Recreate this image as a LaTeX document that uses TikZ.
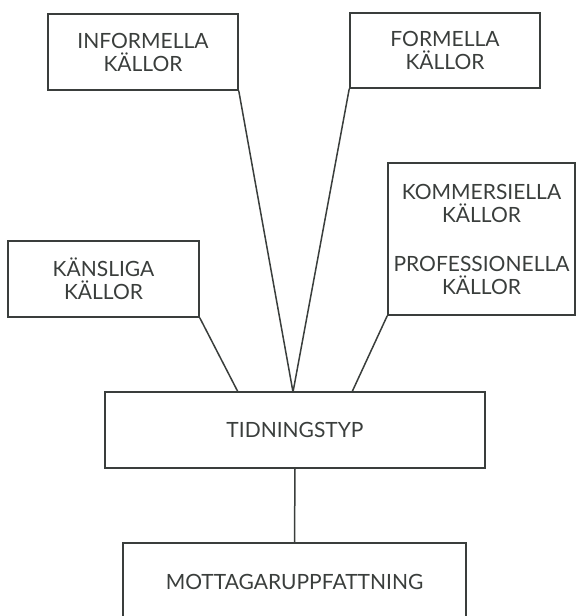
\documentclass[tikz,border=0pt]{standalone}
\usepackage{fontspec}
\setmainfont{Lato}
\definecolor{ink}{RGB}{58,62,60}
\begin{document}
\begin{tikzpicture}[x=1pt,y=-1pt,line width=1.5pt,draw=ink,
    kalla/.style={draw=ink,text=ink,align=center,inner sep=0pt,font=\fontsize{21}{23}\selectfont}]
        \useasboundingbox (0,0) rectangle (576,616);
        \clip (0,0) rectangle (576,616);
        \node[kalla,minimum width=190pt,minimum height=76pt] (inf) at (143,52) {INFORMELLA\\K\"ALLOR};
        \node[kalla,minimum width=190pt,minimum height=75pt] (form) at (445,50.5) {FORMELLA\\K\"ALLOR};
        \node[kalla,minimum width=187pt,minimum height=152pt] (komm) at (481.5,239) {KOMMERSIELLA\\K\"ALLOR\\[26pt]PROFESSIONELLA\\K\"ALLOR};
        \node[kalla,minimum width=191pt,minimum height=76pt] (kans) at (103.5,279) {K\"ANSLIGA\\K\"ALLOR};
        \node[kalla,minimum width=380pt,minimum height=76pt] (tid) at (295,430) {TIDNINGSTYP};
        \node[kalla,minimum width=343pt,minimum height=78pt] (mott) at (294.5,582) {MOTTAGARUPPFATTNING};
        \coordinate (tk) at (238,392);
        \coordinate (tm) at (293,392);
        \coordinate (tp) at (352,392);
        \draw[ink] (inf.south east) -- (tm) (form.south west) -- (tm);
        \draw[ink] (kans.south east) -- (tk) (komm.south west) -- (tp);
        \draw[ink] (tid.south) -- (mott.north);
\end{tikzpicture}
\end{document}
